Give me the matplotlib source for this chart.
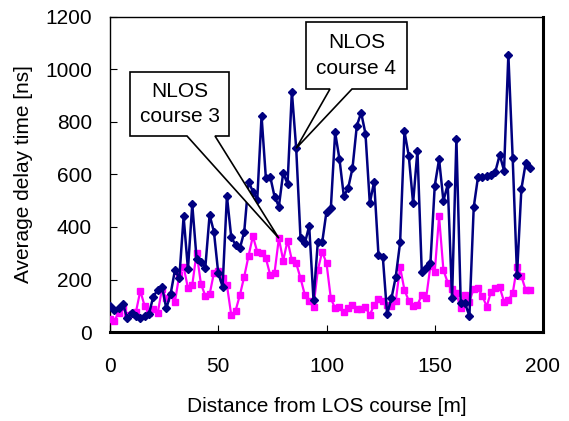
import matplotlib
matplotlib.use("Agg")
import matplotlib.pyplot as plt
from matplotlib.patches import Polygon
from matplotlib.transforms import IdentityTransform

plt.rcParams['font.family'] = ['Liberation Sans', 'DejaVu Sans']

# distance from LOS course [m], sampled every 2 m
distance = list(range(0, 196, 2))

# NLOS course 4 (navy diamonds)
delay_course4 = [99, 84, 90, 107, 52, 71, 60, 52, 62, 69,
                 135, 160, 173, 90, 145, 236, 205, 440, 239, 486,
                 278, 268, 243, 446, 382, 224, 173, 518, 361, 332,
                 319, 382, 573, 535, 503, 823, 586, 592, 516, 478,
                 607, 564, 916, 700, 357, 338, 404, 122, 344, 341,
                 459, 471, 760, 658, 518, 548, 624, 785, 836, 755,
                 491, 573, 294, 287, 68, 128, 211, 341, 764, 671,
                 491, 691, 230, 243, 262, 557, 658, 500, 562, 128,
                 736, 112, 109, 61, 475, 592, 590, 595, 599, 611,
                 675, 615, 1056, 662, 217, 544, 643, 624]

# NLOS course 3 (magenta squares)
delay_course3 = [48, 43, 74, 97, 65, 70, 77, 157, 99, 74,
                 86, 71, 163, 128, 141, 116, 217, 249, 167, 179,
                 302, 183, 139, 143, 225, 232, 205, 179, 65, 81,
                 141, 211, 290, 365, 306, 300, 281, 217, 226, 357,
                 272, 348, 274, 262, 205, 141, 119, 97, 236, 306,
                 262, 128, 90, 97, 77, 90, 103, 87, 87, 94,
                 65, 103, 125, 119, 103, 99, 119, 247, 160, 119,
                 99, 103, 141, 128, 252, 230, 440, 236, 188, 163,
                 147, 90, 141, 116, 165, 167, 137, 97, 154, 167,
                 170, 116, 122, 147, 249, 213, 160, 160]

xticks = [0, 50, 100, 150, 200]
yticks = [0, 200, 400, 600, 800, 1000, 1200]

W, H = 569, 421
fig = plt.figure(figsize=(W / 100, H / 100), dpi=100)
ax = fig.add_axes([110 / W, 1 - 332 / H, 433 / W, 315 / H])

ax.plot(distance, delay_course3, color='#FF00FF', lw=1.6, marker='s',
        ms=5, mec='#FF00FF', mfc='#FF00FF', zorder=3)
ax.plot(distance, delay_course4, color='#000080', lw=1.8, marker='D',
        ms=4, mec='#000080', mfc='#000080', zorder=4)

ax.set_xlim(0, 200)
ax.set_ylim(0, 1200)
ax.set_xticks(xticks)
ax.set_yticks(yticks)
ax.tick_params(axis='both', direction='in', length=5, width=0.8, labelsize=15)
ax.tick_params(axis='x', pad=18)
ax.tick_params(axis='y', pad=13)
ax.set_xlabel('Distance from LOS course [m]', fontsize=15, labelpad=15)
ax.set_ylabel('Average delay time [ns]', fontsize=15, labelpad=9)

ax.spines['left'].set_linewidth(1.0)
ax.spines['top'].set_linewidth(1.0)
ax.spines['bottom'].set_linewidth(2.2)
ax.spines['right'].set_linewidth(2.2)


def callout(box, base, target, lines):
    # box: (left, top, right, bottom) in pixels from top-left
    fig.canvas.draw()
    tx, ty = ax.transData.transform(target)
    l, t, r, b = box
    verts = [(l, H - t), (r, H - t), (r, H - b), (base[1], H - b),
             (tx, ty), (base[0], H - b), (l, H - b)]
    poly = Polygon(verts, closed=True, transform=IdentityTransform(),
                   fc='white', ec='black', lw=1.2, zorder=10, clip_on=False)
    fig.patches.append(poly)
    cx, cy = (l + r) / 2, H - (t + b) / 2
    fig.text(cx / W, cy / H, lines, ha='center', va='center', fontsize=15,
             linespacing=1.45, zorder=11)


callout((130, 72, 229, 136), (187, 215), (78, 357), 'NLOS\ncourse 3')
callout((306, 22, 407, 89), (330, 352), (86, 700), 'NLOS\ncourse 4')

fig.savefig('out.png', dpi=100)
